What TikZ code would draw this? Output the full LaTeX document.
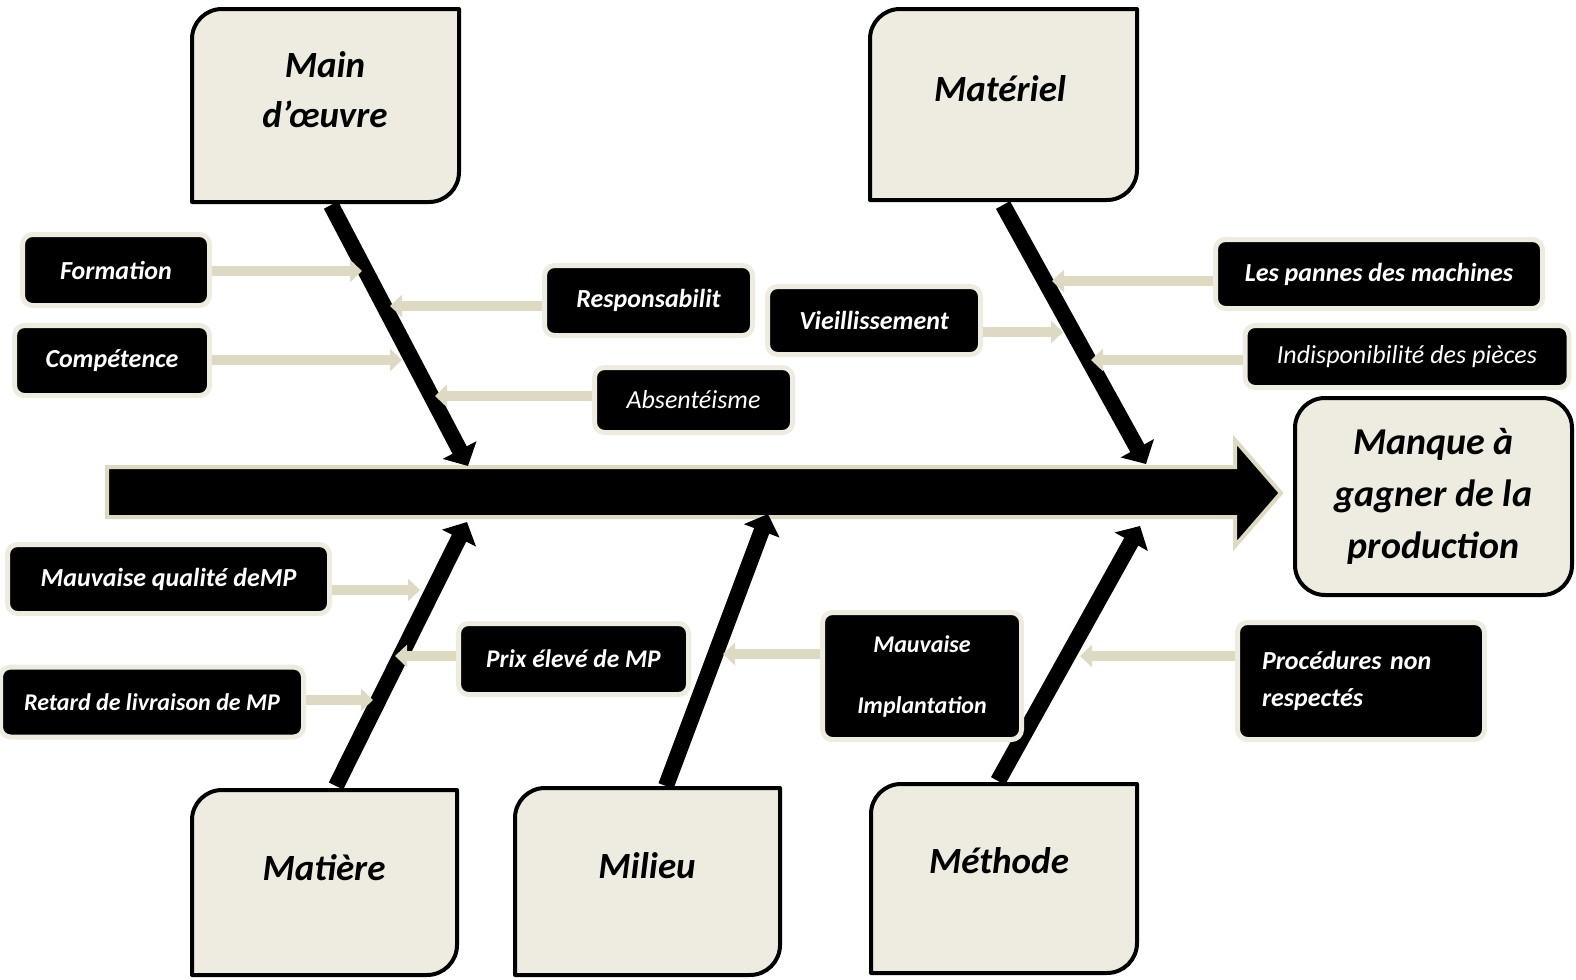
\documentclass[tikz,border=0pt]{standalone}
\usepackage{fontspec}
\setmainfont{Carlito}
\usetikzlibrary{arrows.meta}
\definecolor{boxc}{HTML}{EEECE1}
\definecolor{ringc}{HTML}{EEECE1}
\definecolor{arrc}{HTML}{DDD9C3}
\newcommand\mycatbox[4]{%
  \draw[catline] (#1,#4) -- (#1,#2+30) arc[start angle=180,end angle=90,radius=15pt]
    -- (#3,#2) -- (#3,#4-30) arc[start angle=0,end angle=-90,radius=15pt] -- cycle;}
\begin{document}
\begin{tikzpicture}[x=0.5pt,y=-0.5pt,
  catline/.style={draw=black,line width=2pt,fill=boxc,line join=round},
  cattext/.style={font=\bfseries\itshape\fontsize{18.5}{25}\selectfont,align=center,inner sep=0pt},
  effect/.style={draw=black,line width=2pt,fill=boxc,rounded corners=15pt,
    font=\bfseries\itshape\fontsize{19}{26}\selectfont,align=center,inner sep=0pt},
  lbl/.style={fill=black,draw=ringc,line width=2.5pt,rounded corners=5pt,text=white,
    font=\bfseries\itshape\fontsize{13}{15}\selectfont,inner sep=0pt,align=center},
  lightlbl/.style={lbl,font=\itshape\fontsize{13}{15}\selectfont},
  conn/.style={draw=arrc,line width=5pt,-{Triangle[width=11pt,length=6pt]}},
  bone/.style={draw=black,line width=8pt,-{Triangle[width=18.5pt,length=9pt]}},
  spine/.style={draw=arrc,line width=2pt,fill=black,line join=miter}]
\useasboundingbox (0,0) rectangle (1576,980);

% category boxes
\mycatbox{192}{9}{459}{202}
\mycatbox{870}{9}{1137}{200}
\mycatbox{192}{790}{457}{975}
\mycatbox{515}{788}{780}{975}
\mycatbox{871}{784}{1137}{973}
\node[cattext] (mo) at (325,90) {Main\\d’œuvre};
\node[cattext] (mat) at (1000,89) {Matériel};
\node[cattext] (mp) at (324,868) {Matière};
\node[cattext] (mil) at (647,866) {Milieu};
\node[cattext] (meth) at (999,861) {Méthode};

% spine
\draw[spine] (107,467) -- (1235,467) -- (1235,440) -- (1281,493) -- (1235,546) -- (1235,517) -- (107,517) -- cycle;
\node[effect,minimum width=138.5pt,minimum height=98.5pt] (eff) at (1433.5,496.5) {Manque à\\gagner de la\\production};

% bone ends
\coordinate (bmo) at (331,205);
\coordinate (smo) at (468,466);
\coordinate (bmat) at (1003,205);
\coordinate (smat) at (1146,464);
\coordinate (bmp) at (336,786);
\coordinate (smp) at (467,522);
\coordinate (bmil) at (666,786);
\coordinate (smil) at (768,514);
\coordinate (bmeth) at (998,781);
\coordinate (smeth) at (1140,526);
\draw[bone] (bmo) -- (smo);
\draw[bone] (bmat) -- (smat);
\draw[bone] (bmp) -- (smp);
\draw[bone] (bmil) -- (smil);
\draw[bone] (bmeth) -- (smeth);

% labels
\node[lbl,minimum width=93.5pt,minimum height=35.5pt] (form) at (116,270) {Formation};
\node[lbl,minimum width=97.5pt,minimum height=35pt] (comp) at (112,360.5) {Compétence};
\node[lbl,minimum width=104pt,minimum height=35pt] (resp) at (648.5,300.5) {Responsabilit};
\node[lightlbl,minimum width=99pt,minimum height=32.5pt] (abs) at (693.5,400) {Absentéisme};
\node[lbl,minimum width=106.5pt,minimum height=34pt] (vie) at (874,320.5) {Vieillissement};
\node[lbl,minimum width=163.5pt,minimum height=34.5pt] (pan) at (1379,274) {Les pannes des machines};
\node[lightlbl,minimum width=162pt,minimum height=31pt] (ind) at (1407,356.5) {Indisponibilité des pièces};
\node[lbl,minimum width=161pt,minimum height=34.5pt] (mq) at (168.5,579) {Mauvaise qualité deMP};
\node[lbl,minimum width=151.5pt,minimum height=35pt,font=\bfseries\itshape\fontsize{12}{14}\selectfont] (ret) at (152,702) {Retard de livraison de MP};
\node[lbl,minimum width=115pt,minimum height=35.5pt,font=\bfseries\itshape\fontsize{12.7}{15}\selectfont] (prix) at (573.5,659) {Prix élevé de MP};
\node[lbl,minimum width=99.5pt,minimum height=63.5pt,font=\bfseries\itshape\fontsize{12}{30.5}\selectfont] (mi) at (922,676) {Mauvaise\\Implantation};
\node[lbl,minimum width=123.5pt,minimum height=58.5pt,text width=99pt,align=left,font=\bfseries\itshape\fontsize{13}{18.5}\selectfont] (proc) at (1361,681) {Procédures non\\respectés};

% connector tips
\coordinate (a1) at (362,271);
\coordinate (a2) at (402,360);
\coordinate (a3) at (390,306);
\coordinate (a4) at (435,396);
\coordinate (a5) at (1063,332);
\coordinate (a6) at (1052,281);
\coordinate (a7) at (1091,360);
\coordinate (a8) at (420,590);
\coordinate (a9) at (373,700);
\coordinate (a10) at (395,656);
\coordinate (a11) at (723,654);
\coordinate (a12) at (1080,656);
\draw[conn] (form.east |- a1) -- (a1);
\draw[conn] (comp.east |- a2) -- (a2);
\draw[conn] (resp.west |- a3) -- (a3);
\draw[conn] (abs.west |- a4) -- (a4);
\draw[conn] (vie.east |- a5) -- (a5);
\draw[conn] (pan.west |- a6) -- (a6);
\draw[conn] (ind.west |- a7) -- (a7);
\draw[conn] (mq.east |- a8) -- (a8);
\draw[conn] (ret.east |- a9) -- (a9);
\draw[conn] (prix.west |- a10) -- (a10);
\draw[conn] (mi.west |- a11) -- (a11);
\draw[conn] (proc.west |- a12) -- (a12);
\end{tikzpicture}
\end{document}
